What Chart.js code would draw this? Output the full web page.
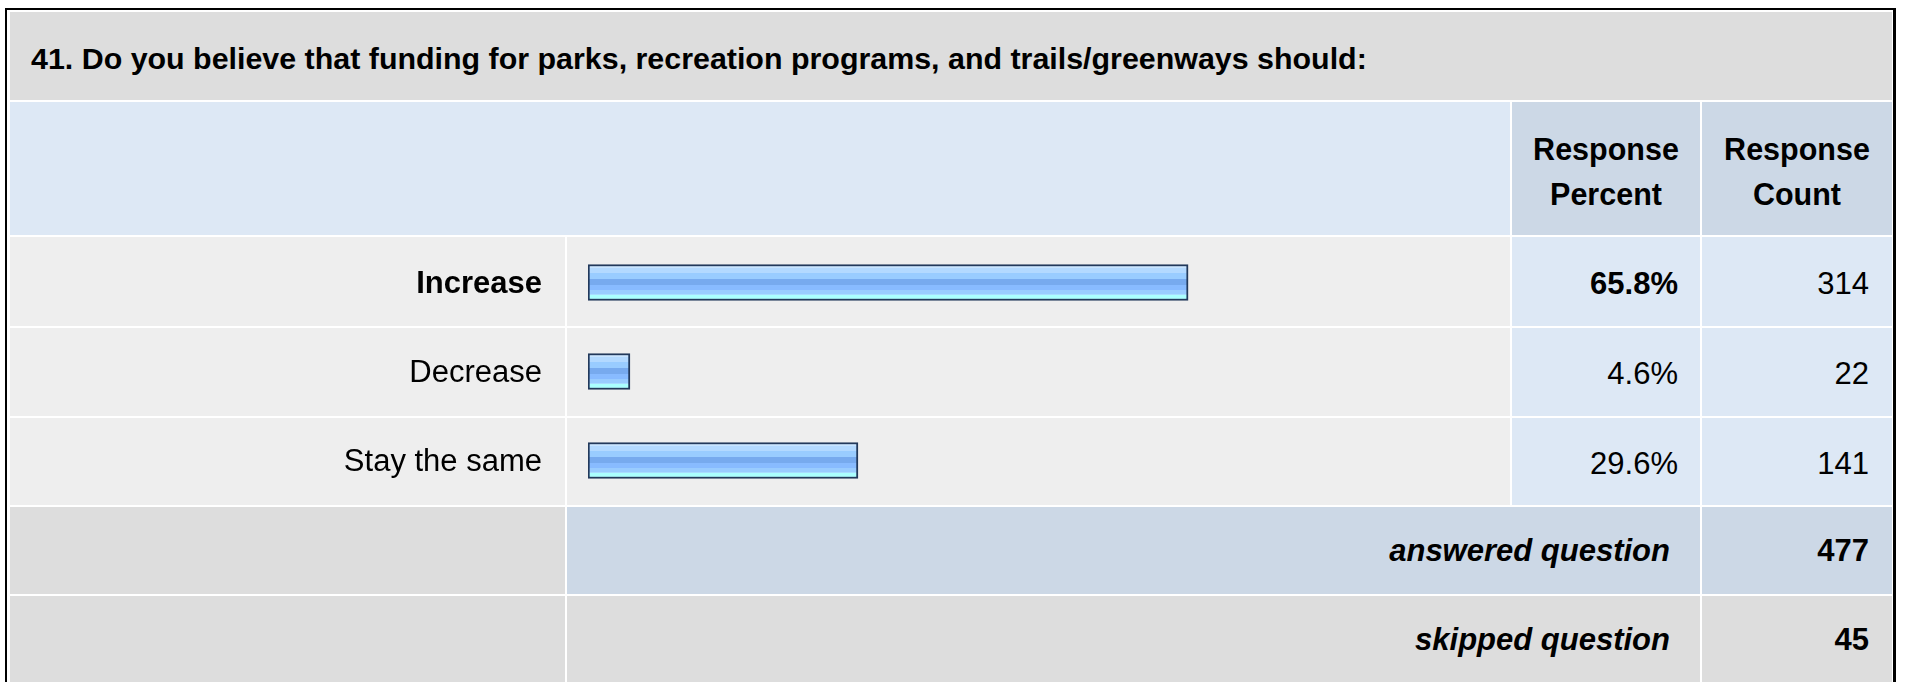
<!DOCTYPE html>
<html>
<head>
<meta charset="utf-8">
<title>Funding for parks, recreation programs, and trails/greenways</title>
<script src="https://cdn.jsdelivr.net/npm/chart.js@4.4.1/dist/chart.umd.min.js"></script>
<style>
  html, body { margin: 0; padding: 0; background: #fff; width: 1907px; height: 682px; overflow: hidden; }
  body { position: relative; font-family: "Liberation Sans", Arial, sans-serif; color: #000; }
  .frame { position: absolute; left: 5px; top: 8px; width: 1891px; height: 700px; box-sizing: border-box;
           border-left: 2px solid #000; border-top: 2px solid #000; border-right: 3px solid #000; background: #fff; }
  .cell { position: absolute; box-sizing: border-box; display: flex; align-items: center;
          font-size: 31px; line-height: 1.15; white-space: nowrap; }
  .right { justify-content: flex-end; }
  .center { justify-content: center; text-align: center; }
  .bold { font-weight: bold; }
  .bi { font-weight: bold; font-style: italic; }
  .title { font-size: 30.4px; }
  .head { font-size: 30.5px; }
  #bars { position: absolute; left: 10px; top: 238px; }
</style>
</head>
<body>
<div class="frame"></div>
<canvas id="bars" width="1500" height="267"></canvas>
<script>
// Survey question 41 and its responses
const question = "41. Do you believe that funding for parks, recreation programs, and trails/greenways should:";
const answerChoices = ["Increase", "Decrease", "Stay the same"];
const responsePercent = [65.8, 4.6, 29.6];
const responseCount = [314, 22, 141];
const percentHeader = ["Response", "Percent"];
const countHeader = ["Response", "Count"];
const summaryLabels = ["answered question", "skipped question"];
const summaryCounts = [477, 45];

// Table geometry (page pixels)
const COL = { label: [10, 565], bar: [567, 1510], pct: [1512, 1700], cnt: [1702, 1892] };
const ROW = { title: [12, 100], head: [102, 235], data: [[237, 326], [328, 416], [418, 505]],
              answered: [507, 594], skipped: [596, 700] };
const COLORS = { grey: "#dddddd", light: "#eeeeee", blue: "#dde8f5", steel: "#ccd8e6" };

const topIndex = responsePercent.indexOf(Math.max(...responsePercent));

function cell(x, y, bg, html, cls, pad) {
  const d = document.createElement("div");
  d.className = "cell " + (cls || "");
  d.style.left = x[0] + "px";
  d.style.top = y[0] + "px";
  d.style.width = (x[1] - x[0]) + "px";
  d.style.height = (y[1] - y[0]) + "px";
  d.style.background = bg;
  if (pad) Object.assign(d.style, pad);
  if (html !== undefined) d.innerHTML = html;
  document.body.insertBefore(d, document.getElementById("bars"));
  return d;
}

// Title band
cell([COL.label[0], COL.cnt[1]], ROW.title, COLORS.grey, question, "bold title", { paddingLeft: "21px", paddingTop: "4px" });

// Column headers
cell([COL.label[0], COL.bar[1]], ROW.head, COLORS.blue);
cell(COL.pct, ROW.head, COLORS.steel, percentHeader.join("<br>"), "bold center head", { lineHeight: "45px", paddingTop: "6px" });
cell(COL.cnt, ROW.head, COLORS.steel, countHeader.join("<br>"), "bold center head", { lineHeight: "45px", paddingTop: "6px" });

// Answer rows: label and bar cells are backgrounds, labels and bars come from the chart
ROW.data.forEach((y, i) => {
  const strong = i === topIndex ? " bold" : "";
  cell(COL.label, y, COLORS.light);
  cell(COL.bar, y, COLORS.light);
  cell(COL.pct, y, COLORS.blue, responsePercent[i].toFixed(1) + "%", "right" + strong, { paddingRight: "22px", paddingTop: "4px" });
  cell(COL.cnt, y, COLORS.blue, String(responseCount[i]), "right", { paddingRight: "23px", paddingTop: "4px" });
});

// Summary rows
cell(COL.label, ROW.answered, COLORS.grey);
cell([COL.bar[0], COL.pct[1]], ROW.answered, COLORS.steel, summaryLabels[0], "right bi", { paddingRight: "30px" });
cell(COL.cnt, ROW.answered, COLORS.steel, String(summaryCounts[0]), "right bold", { paddingRight: "23px" });
cell(COL.label, ROW.skipped, COLORS.grey);
cell([COL.bar[0], COL.pct[1]], ROW.skipped, COLORS.grey, summaryLabels[1], "right bi", { paddingRight: "30px", paddingBottom: "16px" });
cell(COL.cnt, ROW.skipped, COLORS.grey, String(summaryCounts[1]), "right bold", { paddingRight: "23px", paddingBottom: "16px" });

// Glossy stepped fill for each bar, laid over the area inside its outline
const stripes = [
  [0.00, "#c8e4ff"], [0.05, "#b3d9ff"], [0.19, "#99ccff"], [0.40, "#77aaee"],
  [0.58, "#88bbff"], [0.73, "#99ccff"], [0.85, "#aaddff"], [0.90, "#aaffff"]
];
const BAR_THICKNESS = 36;
const BAR_BORDER = 2;
function barFill(ctx) {
  const chart = ctx.chart;
  const yScale = chart.scales.y;
  if (!chart.chartArea || !yScale) return "#99ccff";
  const mid = yScale.getPixelForValue(ctx.dataIndex);
  const inner = BAR_THICKNESS - 2 * BAR_BORDER;
  const top = mid - inner / 2;
  const g = chart.ctx.createLinearGradient(0, top, 0, top + inner);
  stripes.forEach(([t, c], k) => {
    const next = k + 1 < stripes.length ? stripes[k + 1][0] : 1;
    g.addColorStop(t, c);
    g.addColorStop(next, c);
  });
  return g;
}

new Chart(document.getElementById("bars"), {
  type: "bar",
  data: {
    labels: answerChoices,
    datasets: [{
      data: responsePercent,
      backgroundColor: barFill,
      borderColor: "#22395b",
      borderWidth: BAR_BORDER,
      borderSkipped: false,
      barThickness: BAR_THICKNESS
    }]
  },
  options: {
    indexAxis: "y",
    responsive: false,
    animation: false,
    devicePixelRatio: 1,
    layout: { padding: { left: 0, right: 10, top: 0, bottom: 0 } },
    plugins: { legend: { display: false }, tooltip: { enabled: false } },
    scales: {
      x: { display: false, min: 0, max: 100 },
      y: {
        // fixed label column; the category bands fill the full canvas height
        afterFit: (scale) => { scale.width = 578; scale.paddingTop = 0; scale.paddingBottom = 0; },
        grid: { display: false, drawTicks: false, tickLength: 0 },
        border: { display: false },
        ticks: {
          padding: 46,
          labelOffset: 2,
          color: "#000",
          font: (c) => ({
            family: "'Liberation Sans', Arial, sans-serif",
            size: 31,
            weight: c.index === topIndex ? "bold" : "normal"
          })
        }
      }
    }
  }
});
</script>
</body>
</html>
